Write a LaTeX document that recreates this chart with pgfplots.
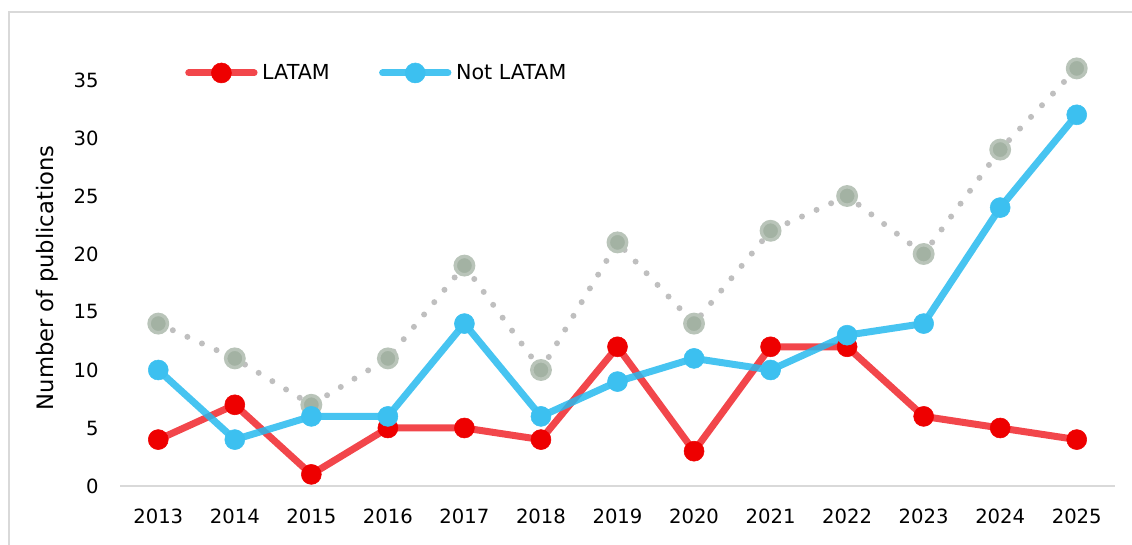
\documentclass[border=0pt]{standalone}
\usepackage{fontspec}
\setmainfont{DejaVu Sans}
\usepackage{pgfplots}
\pgfplotsset{compat=1.18}
\definecolor{latam}{HTML}{F0262C}
\definecolor{latammk}{HTML}{EE0000}
\definecolor{notl}{HTML}{27BAEF}
\definecolor{notlmk}{HTML}{3CC0F0}
\definecolor{totl}{HTML}{BFBFBF}
\definecolor{totmk}{HTML}{A3B2A3}
\definecolor{totring}{HTML}{B9C4B9}
\definecolor{axgray}{HTML}{D9D9D9}
\begin{document}
\begin{tikzpicture}
\useasboundingbox (0,0) rectangle (849pt,408.75pt);
\draw[axgray, line width=1.2pt] (6.75pt,0) -- (6.75pt,399.75pt) -- (849pt,399.75pt);
\begin{axis}[
  at={(90pt,44.25pt)}, anchor=south west, scale only axis,
  width=746.25pt, height=330.6pt,
  xmin=-0.5, xmax=12.5, ymin=0, ymax=38,
  clip=false,
  axis x line*=bottom, axis y line*=left,
  x axis line style={axgray, line width=1.2pt},
  y axis line style={draw=none},
  xtick={0,...,12},
  xticklabels={2013,2014,2015,2016,2017,2018,2019,2020,2021,2022,2023,2024,2025},
  minor xtick={-0.5,0.5,...,12.5},
  ytick={0,5,...,35},
  tick align=outside,
  major tick length=0pt, minor tick length=4.5pt,
  xtick style={draw=none}, ytick style={draw=none},
  minor x tick style={axgray, line width=1.2pt},
  /pgf/number format/assume math mode=true,
  tick label style={font=\fontsize{14.7}{17}\selectfont, black},
  xticklabel style={yshift=-14pt},
  yticklabel style={xshift=-12.5pt},
  ylabel={Number of publications},
  ylabel style={at={(axis description cs:-0.0735,0.472)}, anchor=center, font=\fontsize{17}{19}\selectfont},
  legend columns=2,
  legend style={at={(axis description cs:0.0653,0.937)}, anchor=west, draw=none, fill=none,
    inner sep=0pt, font=\fontsize{15.5}{17}\selectfont,
    /tikz/every odd column/.append style={column sep=1.5pt},
    /tikz/every even column/.append style={column sep=35pt}},
  legend cell align=left,
  legend image code/.code={\draw[mark repeat=2, mark phase=2, line cap=round, #1] plot coordinates {(0pt,0pt) (24.5pt,0pt) (49pt,0pt)};},
]
\addplot[totl, line width=4.5pt, line cap=round, dash pattern=on 0pt off 12pt,
  mark=*, mark size=6.9pt, mark options={solid, fill=totmk, draw=totring, line width=2.6pt},
  forget plot] coordinates {
  (0,14) (1,11) (2,7) (3,11) (4,19) (5,10) (6,21) (7,14) (8,22) (9,25) (10,20) (11,29) (12,36)};
\addplot[latam, draw opacity=0.85, line width=5.25pt, line join=round,
  mark=*, mark size=7.5pt, mark options={solid, line width=0.4pt, draw=latammk, fill=latammk, draw opacity=1, fill opacity=1}] coordinates {
  (0,4) (1,7) (2,1) (3,5) (4,5) (5,4) (6,12) (7,3) (8,12) (9,12) (10,6) (11,5) (12,4)};
\addplot[notl, draw opacity=0.85, line width=5.25pt, line join=round,
  mark=*, mark size=7.5pt, mark options={solid, line width=0.4pt, draw=notlmk, fill=notlmk, draw opacity=1, fill opacity=1}] coordinates {
  (0,10) (1,4) (2,6) (3,6) (4,14) (5,6) (6,9) (7,11) (8,10) (9,13) (10,14) (11,24) (12,32)};
\legend{LATAM, Not LATAM}
\end{axis}
\end{tikzpicture}
\end{document}
